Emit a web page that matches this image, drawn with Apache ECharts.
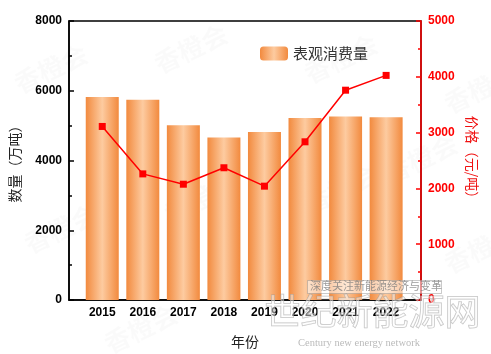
<!DOCTYPE html>
<html>
<head>
<meta charset="utf-8">
<style>
  html, body { margin: 0; padding: 0; background: #fff; }
  #chart { width: 491px; height: 354px; }
</style>
<script src="https://cdn.jsdelivr.net/npm/echarts@6/dist/echarts.min.js"></script>
</head>
<body>
<div id="chart"></div>
<script>
  // 年份 / 表观消费量（万吨）/ 价格（元/吨）
  const years = [2015, 2016, 2017, 2018, 2019, 2020, 2021, 2022]
  const consumption = [5820, 5740, 5010, 4660, 4820, 5220, 5260, 5240]
  const price = [3110, 2260, 2075, 2370, 2040, 2835, 3760, 4025]

  const barColor = new echarts.graphic.LinearGradient(0, 0, 1, 0, [
    { offset: 0, color: '#f28a3e' },
    { offset: 0.5, color: '#fdcba0' },
    { offset: 1, color: '#f28a3e' }
  ])
  const plain = v => String(v)

  const myChart = echarts.init(document.getElementById('chart'))

  // 淡水印
  const marks = []
  ;[[10, 40], [150, 20], [300, 30], [440, 60], [20, 200], [160, 170], [300, 160], [440, 220], [100, 300], [380, 130]].forEach(p => {
    marks.push({
      type: 'text', left: p[0], top: p[1], rotation: Math.PI / 7, silent: true, z: 0,
      style: { text: '香橙会', fill: 'rgba(0,0,0,0.018)', font: 'bold 26px "Noto Sans CJK SC"' }
    })
  })

  myChart.setOption({
    animation: false,
    grid: { left: 65, right: 70, top: 21, bottom: 46, show: true, borderColor: '#000', borderWidth: 1.5 },
    legend: {
      data: ['表观消费量'],
      left: 255, top: 41,
      itemWidth: 28, itemHeight: 14, itemGap: 8,
      textStyle: { fontSize: 15, color: '#333', fontFamily: 'Noto Sans CJK SC' }
    },
    xAxis: {
      type: 'value',
      min: 2014.18, max: 2022.86,
      name: '年份', nameLocation: 'middle', nameGap: 35,
      nameTextStyle: { fontSize: 14, color: '#222', fontFamily: 'Noto Sans CJK SC' },
      axisLine: { lineStyle: { color: '#000', width: 1.5 } },
      axisTick: { inside: true, length: 5, customValues: years, lineStyle: { color: '#000', width: 1.5 } },
      axisLabel: { customValues: years, formatter: plain, margin: 7, color: '#000', fontWeight: 'bold', fontSize: 12, fontFamily: 'Liberation Sans' },
      splitLine: { show: false }
    },
    yAxis: [
      {
        type: 'value', min: 0, max: 8000, interval: 2000,
        name: '数量（万吨）', nameLocation: 'middle', nameGap: 47, nameRotate: 90,
        nameTextStyle: { fontSize: 14, color: '#222', fontFamily: 'Noto Sans CJK SC' },
        axisLine: { show: true, lineStyle: { color: '#000', width: 1.5 } },
        axisTick: { show: true, inside: true, length: 5, lineStyle: { color: '#000', width: 1.5 } },
        minorTick: { show: true, splitNumber: 2, length: 3, lineStyle: { color: '#000', width: 1.5 } },
        axisLabel: { formatter: plain, margin: 7, color: '#000', fontWeight: 'bold', fontSize: 12, fontFamily: 'Liberation Sans' },
        splitLine: { show: false }
      },
      {
        type: 'value', min: 0, max: 5000, interval: 1000, position: 'right',
        name: '价格（元/吨）', nameLocation: 'middle', nameGap: 44, nameRotate: -90,
        nameTextStyle: { fontSize: 14, color: '#f01010', fontFamily: 'Noto Sans CJK SC' },
        axisLine: { show: true, lineStyle: { color: '#ff0000', width: 1.5 } },
        axisTick: { show: true, inside: true, length: 5, lineStyle: { color: '#ff0000', width: 1.5 } },
        minorTick: { show: true, splitNumber: 2, length: 3, lineStyle: { color: '#ff0000', width: 1.5 } },
        axisLabel: { formatter: plain, margin: 7, color: '#ff0000', fontWeight: 'bold', fontSize: 12, fontFamily: 'Liberation Sans' },
        splitLine: { show: false }
      }
    ],
    graphic: marks.concat([
      {
        type: 'rect', left: 307, top: 280, silent: true, z: 10,
        shape: { width: 134, height: 13 },
        style: { fill: 'rgba(255,255,255,0.55)', stroke: 'rgba(150,150,150,0.5)', lineWidth: 1 }
      },
      {
        type: 'text', left: 310, top: 280, silent: true, z: 11,
        style: { text: '深度关注新能源经济与变革', fill: 'rgba(120,120,120,0.75)', font: '11px "Noto Sans CJK SC"' }
      },
      {
        type: 'text', left: 264, top: 293, silent: true, z: 11,
        style: { text: '世纪新能源网', fill: 'rgba(255,255,255,0.45)', stroke: 'rgba(150,150,150,0.6)', lineWidth: 1, font: '36px "Noto Sans CJK SC"' }
      },
      {
        type: 'text', left: 298, top: 338, silent: true, z: 11,
        style: { text: 'Century new energy network', fill: 'rgba(140,140,140,0.6)', font: '10.5px "Liberation Serif"' }
      }
    ]),
    series: [
      {
        name: '表观消费量',
        type: 'bar',
        yAxisIndex: 0,
        barWidth: 33,
        itemStyle: { color: barColor },
        data: years.map((y, i) => [y, consumption[i]])
      },
      {
        name: '价格',
        type: 'line',
        yAxisIndex: 1,
        symbol: 'rect',
        symbolSize: 7,
        lineStyle: { color: '#ff0000', width: 1.5 },
        itemStyle: { color: '#ff0000' },
        data: years.map((y, i) => [y, price[i]])
      }
    ]
  })
</script>
</body>
</html>
